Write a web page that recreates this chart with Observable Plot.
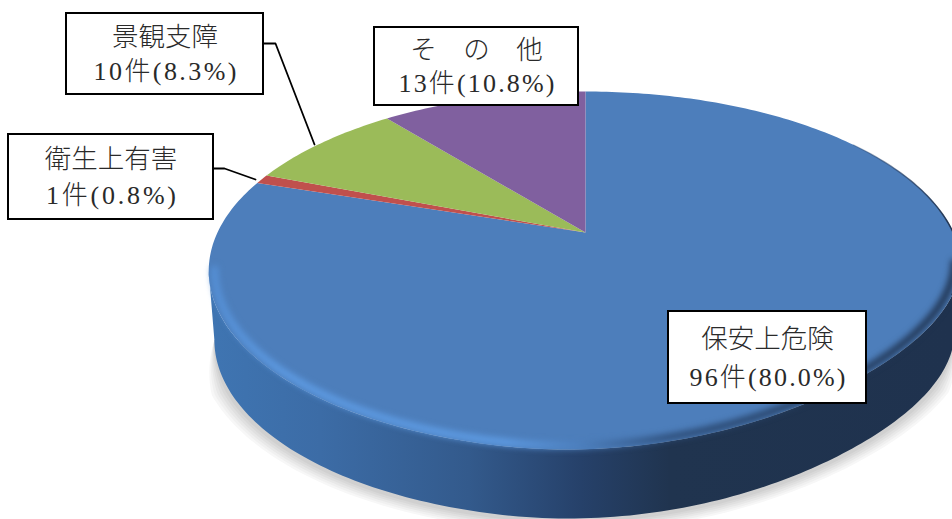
<!DOCTYPE html>
<html lang="ja">
<head>
<meta charset="utf-8">
<script src="https://cdn.jsdelivr.net/npm/d3@7"></script>
<script src="https://cdn.jsdelivr.net/npm/@observablehq/plot@0.6"></script>
<style>
  html, body { margin: 0; padding: 0; background: #fff; }
  svg { display: block; }
</style>
</head>
<body>
<div id="chart"></div>
<script>
// Reasons and counts, clockwise from twelve o'clock.
const categories = ["保安上危険", "衛生上有害", "景観支障", "その他"];
const counts = [96, 1, 10, 13];
const shares = ["80.0", "0.8", "8.3", "10.8"];
const sliceColors = ["#4d7ebb", "#c0504d", "#9bbb59", "#80609f"];

// Annotation boxes: box edges, then the leader lines that tie them to their slices.
const boxNames = ["保安上危険", "衛生上有害", "景観支障", "その他"];
const boxTitles = ["保安上危険", "衛生上有害", "景観支障", "そ　の　他"];
const boxEdges = [[668, 866, 311, 403], [8, 213, 134, 219], [66, 263, 13, 94], [374, 578, 27, 105]];
const leaderPaths = [
  [[213, 168], [224, 168], [255, 179]],
  [[263, 43], [275, 43], [314, 144]]
];

// Ground shadow: nested outlines, palest and widest first.
const shadowGreys = ["#f7f7f7", "#f0f0f0", "#e8e8e8", "#e0e0e0", "#d8d8d8", "#d0d0d0"];
const shadowReach = [1.042, 1.035, 1.028, 1.021, 1.014, 1.007];

// Perspective view of the tilted disc.
const view = {cx: 585, cy: 232, a: 368, b: 171.2, k: 0.2145, depth: 69, taper: 0.985};
const rad = d => d * Math.PI / 180;

// The rim pulls in slightly on the lower right, where the lighting eats the edge.
const rimFactor = deg =>
  deg > 90 && deg < 190 ? 1 - 0.045 * Math.sin(Math.PI * (deg - 90) / 100) ** 2 : 1;

function project(deg, r = 1) {
  const f = r * rimFactor(deg);
  const X = f * Math.sin(rad(deg));
  const Y = -f * Math.cos(rad(deg));
  const w = 1 - view.k * Y;
  return [view.cx + view.a * X / w, view.cy + view.b * Y / w];
}
const lower = (deg, r = 1) => {
  const [x, y] = project(deg, r);
  return [view.cx + (x - view.cx) * view.taper, y + view.depth];
};
const arc = (from, to, fn) => d3.range(from, to, 1).concat(to).map(fn);

// Slice outlines come straight from the counts.
const total = d3.sum(counts);
const angles = d3.cumsum(counts).map(c => c / total * 360);
const slices = categories.flatMap((name, i) => {
  const start = i ? angles[i - 1] : 0;
  const outline = [[view.cx, view.cy], ...arc(start, angles[i], d => project(d))];
  return outline.map(([x, y]) => ({name, x, y}));
});

// The visible wall runs between the two horizontal extremes of the rim.
const side = Math.acos(-view.k) * 180 / Math.PI;
const wall = [
  ...arc(side, 360 - side, d => project(d)),
  ...arc(side, 360 - side, d => lower(d)).reverse()
].map(([x, y]) => ({x, y}));

// The shadow narrows to nothing where the wall meets the rim's extremes.
const shadowFade = deg => Math.min(1, (deg - side) / 15, (360 - side - deg) / 15);
const shadowMarks = shadowGreys.map((grey, i) => {
  const outline = arc(side, 360 - side, d => {
    const fade = shadowFade(d);
    const [x, y] = lower(d, 1 + (shadowReach[i] - 1) * fade);
    return {x, y: y + 2 * fade};
  });
  return Plot.line(outline, {x: "x", y: "y", fill: grey, stroke: "none"});
});
const bevel = arc(100, 258, d => project(d, 0.985)).map(([x, y]) => ({x, y}));
const backEdge = arc(55, 110, d => project(d, 0.999)).map(([x, y]) => ({x, y}));

const leaders = leaderPaths.flatMap((path, id) => path.map(([x, y]) => ({id, x, y})));
const boxes = boxNames.map((name, i) => {
  const [x1, x2, y1, y2] = boxEdges[i];
  const n = categories.indexOf(name);
  return {
    x1, x2, y1, y2,
    xm: (x1 + x2) / 2,
    y1t: y1 + (y2 - y1) * 0.3,
    y2t: y1 + (y2 - y1) * 0.72,
    title: boxTitles[i],
    detail: `${counts[n]}件(${shares[n]}%)`
  };
});

const labelFont = {
  fontFamily: '"Liberation Serif", "Noto Sans CJK JP", serif',
  fontSize: 26.5,
  fontWeight: 300,
  fill: "#2a2a2a",
  stroke: "none",
  textAnchor: "middle",
  lineAnchor: "middle"
};

const chart = Plot.plot({
  width: 952,
  height: 519,
  margin: 0,
  x: {domain: [0, 952], range: [0, 952], axis: null},
  y: {domain: [0, 519], range: [0, 519], axis: null},
  color: {domain: categories, range: sliceColors},
  marks: [
    ...shadowMarks,
    Plot.line(wall, {x: "x", y: "y", fill: "url(#wallShade)", stroke: "none"}),
    Plot.line(slices, {x: "x", y: "y", z: "name", fill: "name", stroke: "none"}),
    Plot.line(backEdge, {x: "x", y: "y", stroke: "url(#backShade)", strokeWidth: 1.5, imageFilter: "blur(0.7px)"}),
    Plot.line(bevel, {x: "x", y: "y", stroke: "url(#rimShade)", strokeWidth: 7, imageFilter: "blur(3px)"}),
    Plot.line(leaders, {x: "x", y: "y", z: "id", stroke: "#000", strokeWidth: 1.8}),
    Plot.rect(boxes, {x1: "x1", x2: "x2", y1: "y1", y2: "y2", fill: "#fff", stroke: "#000", strokeWidth: 2}),
    Plot.text(boxes, {x: "xm", y: "y1t", text: "title", ...labelFont}),
    Plot.text(boxes, {x: "xm", y: "y2t", text: "detail", className: "detail-label", ...labelFont, fontSize: 26})
  ]
});

// Horizontal shading for the side wall and the lit edge of the top face.
const shade = (id, stops, x1 = 208, x2 = 952) => {
  const g = d3.create("svg:linearGradient")
    .attr("id", id).attr("gradientUnits", "userSpaceOnUse")
    .attr("x1", x1).attr("x2", x2).attr("y1", 0).attr("y2", 0);
  stops.forEach(([o, c, a = 1]) =>
    g.append("stop").attr("offset", o).attr("stop-color", c).attr("stop-opacity", a));
  return g.node();
};
const defs = document.createElementNS("http://www.w3.org/2000/svg", "defs");
defs.append(
  shade("wallShade", [[0, "#3f75b2"], [0.15, "#3c6ca6"], [0.35, "#335a8c"], [0.5, "#26416a"], [0.62, "#20344f"], [1, "#1f324e"]]),
  shade("rimShade", [[0, "#5590d6"], [0.1, "#5e9ce4"], [0.4, "#5e9ce4"], [0.5, "#4c7fbd"], [0.62, "#2d4d78"], [1, "#1f324e"]]),
  shade("backShade", [[0, "#2a3f60", 0], [0.5, "#2a3f60", 0.5], [1, "#22344f", 1]], 820, 952)
);
chart.prepend(defs);

document.getElementById("chart").append(chart);

// Digits and punctuation sit on a half-em grid, kanji and % on a full em.
chart.querySelectorAll(".detail-label text").forEach(t => {
  const ems = Array.from(t.textContent).reduce((sum, ch) => sum + (/[0-9.()]/.test(ch) ? 0.5 : 1), 0);
  t.setAttribute("textLength", ems * 26);
  t.setAttribute("lengthAdjust", "spacing");
});
</script>
</body>
</html>
